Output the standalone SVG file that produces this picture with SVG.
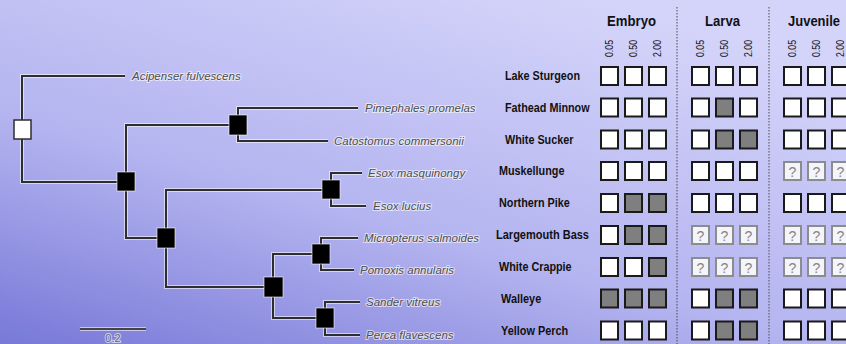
<svg xmlns="http://www.w3.org/2000/svg" width="846" height="344" viewBox="0 0 846 344">
<defs>
<linearGradient id="bg" x1="0" y1="1" x2="0.7" y2="0">
<stop offset="0" stop-color="#7878d8"/>
<stop offset="0.45" stop-color="#b4b4f0"/>
<stop offset="1" stop-color="#d4d4fa"/>
</linearGradient>
<style>
.br{fill:none;stroke:#2e2e2e;stroke-width:2;}
.halo{fill:none;stroke:#ffffff;stroke-opacity:0.55;stroke-width:4;}
.nd{fill:#000;stroke:#ffffff;stroke-opacity:0.6;stroke-width:1;}
.root{fill:#fff;stroke:#2e2e2e;stroke-width:1.5;}
.sp{font-family:"Liberation Sans",Arial,sans-serif;font-style:italic;font-size:11.5px;fill:#4e4e4e;stroke:#ffffff;stroke-opacity:0.6;stroke-width:2;paint-order:stroke;}
.lb{font-family:"Liberation Sans",Arial,sans-serif;font-weight:bold;font-size:12px;fill:#111;}
.hd{font-family:"Liberation Sans",Arial,sans-serif;font-weight:bold;font-size:15px;fill:#111;}
.cn{font-family:"Liberation Sans",Arial,sans-serif;font-size:10px;fill:#111;text-anchor:middle;}
.w{fill:#fff;stroke:#1a1a1a;stroke-width:2;}
.g{fill:#7f7f7f;stroke:#1a1a1a;stroke-width:2;}
.q{fill:#f4f4fb;stroke:#8c8c8c;stroke-width:2;}
.qt{font-family:"Liberation Sans",Arial,sans-serif;font-size:14px;fill:#858585;text-anchor:middle;}
.sep{stroke:#4a4a4a;stroke-width:1;stroke-dasharray:1.5 1.5;}
</style>
</defs>
<rect x="0" y="0" width="846" height="344" fill="url(#bg)"/>

<g id="connectors">
<path class="halo" d="M125,76 H22 V182 H126 M126,182 V125 H238 M126,182 V238 H166 M358,108 H238 V141 H328 M166,238 V190 H331 M166,238 V287 H273 M362,173 H331 V206 H366 M273,287 V254 H321 M273,287 V318 H325 M358,238 H321 V270 H354 M360,302 H325 V335 H360 M80,329 H146"/>
<path class="br" d="M125,76 H22 V182 H126 M126,182 V125 H238 M126,182 V238 H166 M358,108 H238 V141 H328 M166,238 V190 H331 M166,238 V287 H273 M362,173 H331 V206 H366 M273,287 V254 H321 M273,287 V318 H325 M358,238 H321 V270 H354 M360,302 H325 V335 H360"/>
</g>

<g id="node-root"><rect class="root" x="14" y="120" width="17" height="19"/></g>
<g id="node-n1"><rect class="nd" x="117" y="172" width="18" height="19"/></g>
<g id="node-cyprinid"><rect class="nd" x="229" y="115" width="18" height="20"/></g>
<g id="node-n2"><rect class="nd" x="157" y="228" width="18" height="20"/></g>
<g id="node-esox"><rect class="nd" x="322" y="180" width="18" height="19"/></g>
<g id="node-n3"><rect class="nd" x="264" y="277" width="19" height="20"/></g>
<g id="node-centrarchid"><rect class="nd" x="312" y="244" width="18" height="20"/></g>
<g id="node-percid"><rect class="nd" x="316" y="308" width="18" height="20"/></g>

<g id="leaf-acipenser"><text class="sp" x="132" y="80">Acipenser fulvescens</text></g>
<g id="leaf-pimephales"><text class="sp" x="365" y="112">Pimephales promelas</text></g>
<g id="leaf-catostomus"><text class="sp" x="334" y="145">Catostomus commersonii</text></g>
<g id="leaf-esox-m"><text class="sp" x="368" y="177">Esox masquinongy</text></g>
<g id="leaf-esox-l"><text class="sp" x="373" y="210">Esox lucius</text></g>
<g id="leaf-micropterus"><text class="sp" x="364" y="242">Micropterus salmoides</text></g>
<g id="leaf-pomoxis"><text class="sp" x="360" y="274">Pomoxis annularis</text></g>
<g id="leaf-sander"><text class="sp" x="366" y="306">Sander vitreus</text></g>
<g id="leaf-perca"><text class="sp" x="366" y="339">Perca flavescens</text></g>

<g id="scalebar">
<line x1="80" y1="329" x2="146" y2="329" stroke="#444" stroke-width="2"/>
<text x="113" y="342" font-family="'Liberation Sans',Arial,sans-serif" font-size="11" fill="#6a6a6a" text-anchor="middle" stroke="#fff" stroke-opacity="0.6" stroke-width="2" paint-order="stroke">0.2</text>
</g>

<g id="separators">
<line class="sep" x1="677" y1="7" x2="677" y2="344"/>
<line class="sep" x1="769" y1="7" x2="769" y2="344"/>
</g>

<g id="headers">
<text class="hd" x="607" y="26" textLength="49" lengthAdjust="spacingAndGlyphs">Embryo</text>
<text class="hd" x="705" y="26" textLength="35" lengthAdjust="spacingAndGlyphs">Larva</text>
<text class="hd" x="788" y="26" font-size="14" style="font-size:14px" textLength="52" lengthAdjust="spacingAndGlyphs">Juvenile</text>
<g class="cn">
<text transform="translate(613,48.5) rotate(-90)" textLength="17" lengthAdjust="spacingAndGlyphs">0.05</text>
<text transform="translate(637,48.5) rotate(-90)" textLength="17" lengthAdjust="spacingAndGlyphs">0.50</text>
<text transform="translate(661,48.5) rotate(-90)" textLength="17" lengthAdjust="spacingAndGlyphs">2.00</text>
<text transform="translate(704,48.5) rotate(-90)" textLength="17" lengthAdjust="spacingAndGlyphs">0.05</text>
<text transform="translate(728,48.5) rotate(-90)" textLength="17" lengthAdjust="spacingAndGlyphs">0.50</text>
<text transform="translate(752,48.5) rotate(-90)" textLength="17" lengthAdjust="spacingAndGlyphs">2.00</text>
<text transform="translate(796,48.5) rotate(-90)" textLength="17" lengthAdjust="spacingAndGlyphs">0.05</text>
<text transform="translate(820,48.5) rotate(-90)" textLength="17" lengthAdjust="spacingAndGlyphs">0.50</text>
<text transform="translate(844,48.5) rotate(-90)" textLength="17" lengthAdjust="spacingAndGlyphs">2.00</text>
</g>
</g>

<g id="row-lake-sturgeon">
<text class="lb" x="505" y="80" textLength="75" lengthAdjust="spacingAndGlyphs">Lake Sturgeon</text>
<rect class="w" x="601" y="67" width="17" height="18"/><rect class="w" x="625" y="67" width="17" height="18"/><rect class="w" x="649" y="67" width="17" height="18"/>
<rect class="w" x="692" y="67" width="17" height="18"/><rect class="w" x="716" y="67" width="17" height="18"/><rect class="w" x="740" y="67" width="17" height="18"/>
<rect class="w" x="784" y="67" width="17" height="18"/><rect class="w" x="808" y="67" width="17" height="18"/><rect class="w" x="832" y="67" width="17" height="18"/>
</g>
<g id="row-fathead-minnow">
<text class="lb" x="505" y="112" textLength="84.6" lengthAdjust="spacingAndGlyphs">Fathead Minnow</text>
<rect class="w" x="601" y="98.5" width="17" height="18"/><rect class="w" x="625" y="98.5" width="17" height="18"/><rect class="w" x="649" y="98.5" width="17" height="18"/>
<rect class="w" x="692" y="98.5" width="17" height="18"/><rect class="g" x="716" y="98.5" width="17" height="18"/><rect class="w" x="740" y="98.5" width="17" height="18"/>
<rect class="w" x="784" y="98.5" width="17" height="18"/><rect class="w" x="808" y="98.5" width="17" height="18"/><rect class="w" x="832" y="98.5" width="17" height="18"/>
</g>
<g id="row-white-sucker">
<text class="lb" x="505" y="144" textLength="68.4" lengthAdjust="spacingAndGlyphs">White Sucker</text>
<rect class="w" x="601" y="130.5" width="17" height="18"/><rect class="w" x="625" y="130.5" width="17" height="18"/><rect class="w" x="649" y="130.5" width="17" height="18"/>
<rect class="w" x="692" y="130.5" width="17" height="18"/><rect class="g" x="716" y="130.5" width="17" height="18"/><rect class="g" x="740" y="130.5" width="17" height="18"/>
<rect class="w" x="784" y="130.5" width="17" height="18"/><rect class="w" x="808" y="130.5" width="17" height="18"/><rect class="w" x="832" y="130.5" width="17" height="18"/>
</g>
<g id="row-muskellunge">
<text class="lb" x="499" y="175" textLength="65.4" lengthAdjust="spacingAndGlyphs">Muskellunge</text>
<rect class="w" x="601" y="162" width="17" height="18"/><rect class="w" x="625" y="162" width="17" height="18"/><rect class="w" x="649" y="162" width="17" height="18"/>
<rect class="w" x="692" y="162" width="17" height="18"/><rect class="w" x="716" y="162" width="17" height="18"/><rect class="w" x="740" y="162" width="17" height="18"/>
<rect class="q" x="784" y="162" width="17" height="18"/><rect class="q" x="808" y="162" width="17" height="18"/><rect class="q" x="832" y="162" width="17" height="18"/>
<text class="qt" x="792.5" y="176.5">?</text><text class="qt" x="816.5" y="176.5">?</text><text class="qt" x="840.5" y="176.5">?</text>
</g>
<g id="row-northern-pike">
<text class="lb" x="499" y="207" textLength="70.8" lengthAdjust="spacingAndGlyphs">Northern Pike</text>
<rect class="w" x="601" y="194" width="17" height="18"/><rect class="g" x="625" y="194" width="17" height="18"/><rect class="g" x="649" y="194" width="17" height="18"/>
<rect class="w" x="692" y="194" width="17" height="18"/><rect class="w" x="716" y="194" width="17" height="18"/><rect class="w" x="740" y="194" width="17" height="18"/>
<rect class="w" x="784" y="194" width="17" height="18"/><rect class="w" x="808" y="194" width="17" height="18"/><rect class="w" x="832" y="194" width="17" height="18"/>
</g>
<g id="row-largemouth-bass">
<text class="lb" x="496" y="239" textLength="93" lengthAdjust="spacingAndGlyphs">Largemouth Bass</text>
<rect class="w" x="601" y="226" width="17" height="18"/><rect class="g" x="625" y="226" width="17" height="18"/><rect class="g" x="649" y="226" width="17" height="18"/>
<rect class="q" x="692" y="226" width="17" height="18"/><rect class="q" x="716" y="226" width="17" height="18"/><rect class="q" x="740" y="226" width="17" height="18"/>
<rect class="q" x="784" y="226" width="17" height="18"/><rect class="q" x="808" y="226" width="17" height="18"/><rect class="q" x="832" y="226" width="17" height="18"/>
<text class="qt" x="700.5" y="240.5">?</text><text class="qt" x="724.5" y="240.5">?</text><text class="qt" x="748.5" y="240.5">?</text>
<text class="qt" x="792.5" y="240.5">?</text><text class="qt" x="816.5" y="240.5">?</text><text class="qt" x="840.5" y="240.5">?</text>
</g>
<g id="row-white-crappie">
<text class="lb" x="499" y="271" textLength="72.6" lengthAdjust="spacingAndGlyphs">White Crappie</text>
<rect class="w" x="601" y="258" width="17" height="18"/><rect class="w" x="625" y="258" width="17" height="18"/><rect class="g" x="649" y="258" width="17" height="18"/>
<rect class="q" x="692" y="258" width="17" height="18"/><rect class="q" x="716" y="258" width="17" height="18"/><rect class="q" x="740" y="258" width="17" height="18"/>
<rect class="q" x="784" y="258" width="17" height="18"/><rect class="q" x="808" y="258" width="17" height="18"/><rect class="q" x="832" y="258" width="17" height="18"/>
<text class="qt" x="700.5" y="272.5">?</text><text class="qt" x="724.5" y="272.5">?</text><text class="qt" x="748.5" y="272.5">?</text>
<text class="qt" x="792.5" y="272.5">?</text><text class="qt" x="816.5" y="272.5">?</text><text class="qt" x="840.5" y="272.5">?</text>
</g>
<g id="row-walleye">
<text class="lb" x="501" y="303" textLength="40.2" lengthAdjust="spacingAndGlyphs">Walleye</text>
<rect class="g" x="601" y="289.5" width="17" height="18"/><rect class="g" x="625" y="289.5" width="17" height="18"/><rect class="g" x="649" y="289.5" width="17" height="18"/>
<rect class="w" x="692" y="289.5" width="17" height="18"/><rect class="g" x="716" y="289.5" width="17" height="18"/><rect class="g" x="740" y="289.5" width="17" height="18"/>
<rect class="w" x="784" y="289.5" width="17" height="18"/><rect class="w" x="808" y="289.5" width="17" height="18"/><rect class="w" x="832" y="289.5" width="17" height="18"/>
</g>
<g id="row-yellow-perch">
<text class="lb" x="501" y="335" textLength="67.2" lengthAdjust="spacingAndGlyphs">Yellow Perch</text>
<rect class="w" x="601" y="321.5" width="17" height="18"/><rect class="w" x="625" y="321.5" width="17" height="18"/><rect class="w" x="649" y="321.5" width="17" height="18"/>
<rect class="w" x="692" y="321.5" width="17" height="18"/><rect class="g" x="716" y="321.5" width="17" height="18"/><rect class="g" x="740" y="321.5" width="17" height="18"/>
<rect class="w" x="784" y="321.5" width="17" height="18"/><rect class="w" x="808" y="321.5" width="17" height="18"/><rect class="w" x="832" y="321.5" width="17" height="18"/>
</g>
</svg>
